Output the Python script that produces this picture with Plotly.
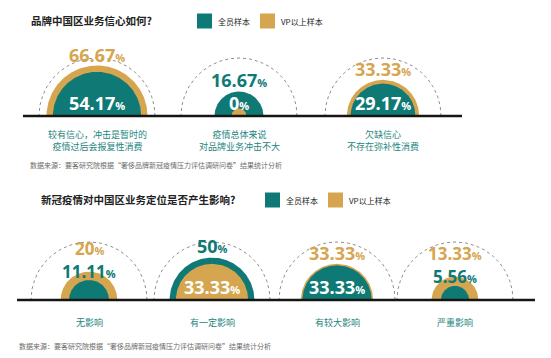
import numpy as np
import plotly.graph_objects as go

# ---------------- data ----------------
series_names = ["全员样本", "VP以上样本"]

q1_title = "品牌中国区业务信心如何?"
q1_categories = ["较有信心，冲击是暂时的<br>疫情过后会报复性消费",
                 "疫情总体来说<br>对品牌业务冲击不大",
                 "欠缺信心<br>不存在弥补性消费"]
q1_all = [54.17, 16.67, 29.17]
q1_vp = [66.67, 0, 33.33]

q2_title = "新冠疫情对中国区业务定位是否产生影响?"
q2_categories = ["无影响", "有一定影响", "有较大影响", "严重影响"]
q2_all = [11.11, 50, 33.33, 5.56]
q2_vp = [20, 33.33, 33.33, 13.33]

source_text = "数据来源：要客研究院根据“奢侈品牌新冠疫情压力评估调研问卷”结果统计分析"

# ---------------- style / layout ----------------
W, H = 551, 358
TEAL = "#0f7a75"
GOLD = "#d5a54f"
LABEL_TEAL = "#1c8580"
DARK = "#222222"
GRAY = "#6b6b6b"
CJK = "Noto Sans CJK SC"
NUM = "Open Sans, Noto Sans CJK SC"
K = 6.0          # radius scale: r = K * sqrt(value)
R_MIN = 6.0
R_GUIDE = 58.0   # dotted guide arc

sections = [
    dict(title=q1_title, cats=q1_categories, all=q1_all, vp=q1_vp,
         centers=[97, 239, 383], base=116, line=(23, 462),
         title_xy=(29, 20), leg_x=(197, 260), leg_y=21,
         inside=[True, True, True], cat_y=140, src_xy=(28, 165)),
    dict(title=q2_title, cats=q2_categories, all=q2_all, vp=q2_vp,
         centers=[89, 212, 337, 455], base=300, line=(17, 535),
         title_xy=(39, 199), leg_x=(265, 328), leg_y=200,
         inside=[False, True, True, False], cat_y=322, src_xy=(17, 346)),
]

fig = go.Figure()


def semi(cx, base, r, n=181):
    t = np.linspace(0, np.pi, n)
    return cx + r * np.cos(t), base - r * np.sin(t)


def radius(v):
    return max(R_MIN, K * np.sqrt(v))


def pct(v):
    s = f"{v:g}"
    return f"<b>{s}<span style='font-size:11px'>%</span></b>"


annotations = []
shapes = []

for sec in sections:
    base = sec["base"]
    # baseline
    shapes.append(dict(type="line", xref="x", yref="y", x0=sec["line"][0], x1=sec["line"][1],
                       y0=base, y1=base, line=dict(color="#151515", width=2.6), layer="above"))
    # title
    annotations.append(dict(x=sec["title_xy"][0], y=sec["title_xy"][1], xref="x", yref="y",
                            text=f"<b>{sec['title']}</b>", showarrow=False, xanchor="left",
                            yanchor="middle", font=dict(family=CJK, size=10.5, color=DARK)))
    # legend
    for i, (name, col) in enumerate(zip(series_names, [TEAL, GOLD])):
        lx = sec["leg_x"][i]
        shapes.append(dict(type="rect", xref="x", yref="y", x0=lx, x1=lx + 15,
                           y0=sec["leg_y"] - 7.5, y1=sec["leg_y"] + 7.5,
                           fillcolor=col, line=dict(width=0)))
        annotations.append(dict(x=lx + 19, y=sec["leg_y"] + 0.5, xref="x", yref="y", text=name,
                                showarrow=False, xanchor="left", yanchor="middle",
                                font=dict(family=CJK, size=8, color=DARK)))
    # source
    annotations.append(dict(x=sec["src_xy"][0], y=sec["src_xy"][1], xref="x", yref="y",
                            text=source_text, showarrow=False, xanchor="left", yanchor="middle",
                            font=dict(family=CJK, size=7, color=GRAY)))

    for j, cx in enumerate(sec["centers"]):
        # dotted guide
        gx, gy = semi(cx, base, R_GUIDE)
        fig.add_trace(go.Scatter(x=gx, y=gy, mode="lines", hoverinfo="skip", showlegend=False,
                                 line=dict(color="#8f8f8f", width=1, dash="dot")))
        va, vv = sec["all"][j], sec["vp"][j]
        ra, rv = radius(va), radius(vv)
        items = [(vv, rv, GOLD, 3), (va, ra, TEAL, 0)]
        items.sort(key=lambda it: -it[1])  # larger drawn first; ties keep gold first
        for v, r, col, lw in items:
            x, y = semi(cx, base, r)
            fig.add_trace(go.Scatter(x=x, y=y, mode="lines", fill="toself", fillcolor=col,
                                     line=dict(color=col, width=lw), hoverinfo="skip",
                                     showlegend=False))
        (vo, ro, co, _), (vi, ri, ci, _) = items
        if sec["inside"][j]:
            yi = base - 13
            yo = base - ro - 12
            annotations.append(dict(x=cx, y=yi, xref="x", yref="y", text=pct(vi), showarrow=False,
                                    xanchor="center", yanchor="middle",
                                    font=dict(family=NUM, size=18, color="white")))
        else:
            yi = base - ri - 9
            yo = yi - 23
            annotations.append(dict(x=cx, y=yi, xref="x", yref="y", text=pct(vi), showarrow=False,
                                    xanchor="center", yanchor="middle",
                                    font=dict(family=NUM, size=17, color=ci)))
        annotations.append(dict(x=cx, y=yo, xref="x", yref="y", text=pct(vo), showarrow=False,
                                xanchor="center", yanchor="middle",
                                font=dict(family=NUM, size=18 if sec["inside"][j] else 17, color=co)))
        # category label
        annotations.append(dict(x=cx, y=sec["cat_y"], xref="x", yref="y", text=sec["cats"][j],
                                showarrow=False, xanchor="center", yanchor="middle",
                                font=dict(family=CJK, size=9, color=LABEL_TEAL)))

fig.update_layout(
    width=W, height=H, margin=dict(l=0, r=0, t=0, b=0),
    paper_bgcolor="white", plot_bgcolor="white",
    xaxis=dict(range=[0, W], visible=False, fixedrange=True),
    yaxis=dict(range=[H, 0], visible=False, fixedrange=True),
    shapes=shapes, annotations=annotations, showlegend=False,
)

fig.write_html("out.html", post_script="document.body.style.margin='0';",
               config={"displayModeBar": False})
